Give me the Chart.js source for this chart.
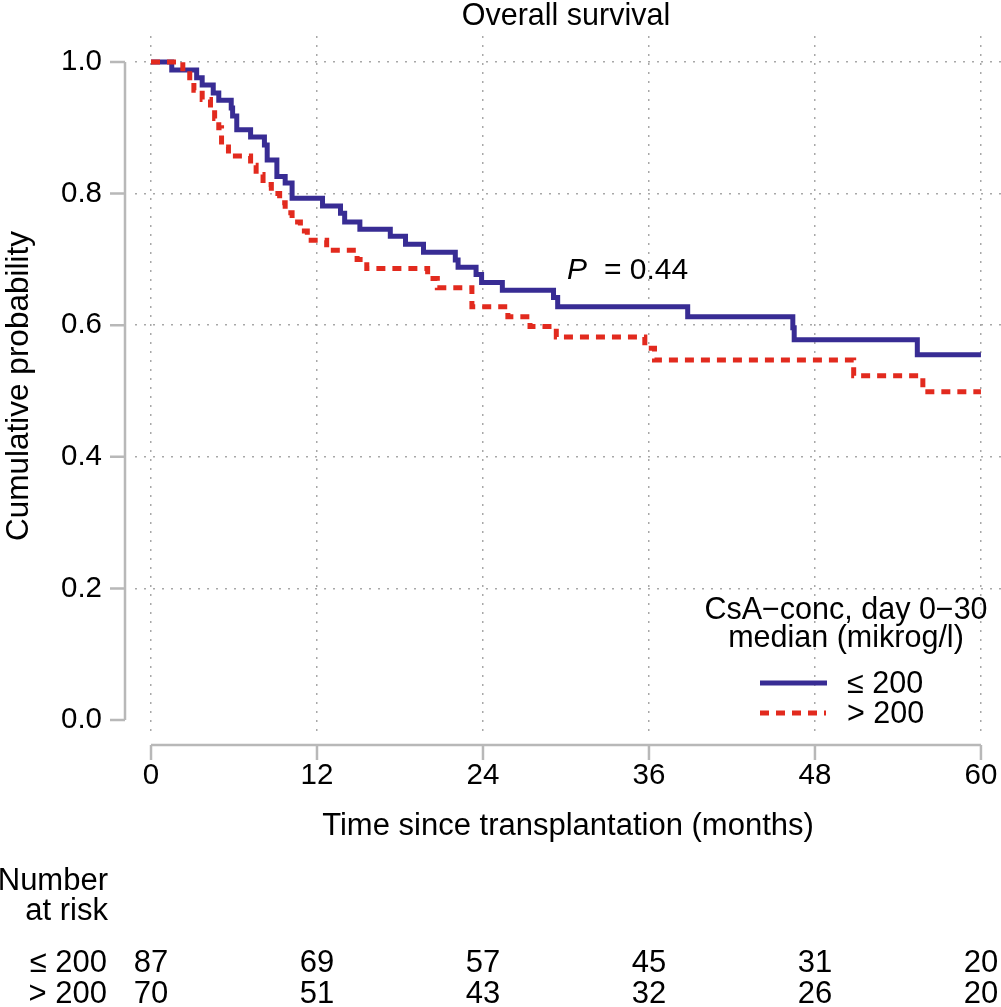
<!DOCTYPE html>
<html>
<head>
<meta charset="utf-8">
<title>Overall survival</title>
<script src="https://cdn.jsdelivr.net/npm/chart.js@4.4.1/dist/chart.umd.min.js"></script>
<style>
  body { margin: 0; background: #fff; }
  #wrap { width: 1001px; height: 1007px; position: relative; }
</style>
</head>
<body>
<div id="wrap"><canvas id="km"></canvas></div>
<script>
// Kaplan-Meier steps: month of each drop, survival right after it
const lowTimes = [0, 1.5, 3.3, 3.7, 4.5, 4.9, 5.8, 5.9, 6.2, 7.2, 8.2, 8.4, 9.1, 9.7, 10.2,
  12.4, 13.7, 14.0, 15.1, 17.3, 18.4, 19.7, 22.0, 22.2, 23.5, 23.9, 25.4, 29.1, 29.4,
  38.8, 46.4, 46.5, 55.4, 60];
const lowSurv = [1.0, 0.988, 0.976, 0.965, 0.953, 0.942, 0.930, 0.918, 0.897, 0.886, 0.874, 0.851, 0.826, 0.816, 0.793,
  0.781, 0.770, 0.757, 0.746, 0.735, 0.723, 0.711, 0.699, 0.688, 0.677, 0.665, 0.653, 0.642, 0.628,
  0.613, 0.596, 0.578, 0.555, 0.555];

const highTimes = [0, 2.3, 2.8, 3.1, 3.7, 4.3, 4.6, 4.9, 5.1, 5.6, 7.2, 7.6, 8.1, 8.7, 9.3, 9.7,
  10.2, 10.8, 11.3, 12.7, 14.9, 15.6, 20.0, 20.7, 23.2, 25.8, 27.4, 29.3, 35.7, 36.4,
  50.8, 55.8, 60];
const highSurv = [1.0, 0.986, 0.971, 0.957, 0.943, 0.929, 0.914, 0.900, 0.871, 0.857, 0.843, 0.829, 0.814, 0.800, 0.786, 0.771,
  0.757, 0.743, 0.729, 0.714, 0.700, 0.686, 0.671, 0.657, 0.628, 0.613, 0.598, 0.582, 0.565, 0.547,
  0.523, 0.499, 0.499];

const xTicks = [0, 12, 24, 36, 48, 60];
const yTicks = [0, 0.2, 0.4, 0.6, 0.8, 1.0];
const groupLabels = ['\u2264 200', '> 200'];
const riskLow = [87, 69, 57, 45, 31, 20];
const riskHigh = [70, 51, 43, 32, 26, 20];

const blue = 'rgb(56, 44, 148)';
const red = 'rgb(226, 42, 30)';
const axisGray = '#b8b8b8';
const FONT = '"Liberation Sans", Arial, Helvetica, sans-serif';

Chart.defaults.font.family = FONT;
Chart.defaults.color = '#000';

function toPoints(times, surv) {
  return times.map((t, i) => ({x: t, y: surv[i]}));
}

// keep the plot area where the reference has it: no auto padding for edge labels
function noPadding(scale) {
  scale.paddingLeft = 0;
  scale.paddingRight = 0;
  scale.paddingTop = 0;
  scale.paddingBottom = 0;
}

// extra drawing: offset axes, title, p-value, legend, number at risk
const extras = {
  id: 'extras',
  afterDraw(chart) {
    const ctx = chart.ctx;
    const xs = chart.scales.x;
    const ys = chart.scales.y;
    ctx.save();

    // y axis (offset left of the plot)
    const ax = 125;
    ctx.strokeStyle = axisGray;
    ctx.lineWidth = 2.5;
    ctx.beginPath();
    ctx.moveTo(ax, ys.getPixelForValue(0));
    ctx.lineTo(ax, ys.getPixelForValue(1));
    yTicks.forEach(v => {
      const py = ys.getPixelForValue(v);
      ctx.moveTo(ax, py);
      ctx.lineTo(ax - 15, py);
    });
    // x axis (offset below the plot)
    const ay = 745;
    ctx.moveTo(xs.getPixelForValue(0), ay);
    ctx.lineTo(xs.getPixelForValue(60), ay);
    xTicks.forEach(v => {
      const px = xs.getPixelForValue(v);
      ctx.moveTo(px, ay);
      ctx.lineTo(px, ay + 15);
    });
    ctx.stroke();

    ctx.fillStyle = '#000';
    ctx.textBaseline = 'alphabetic';

    // title
    ctx.font = '30.5px ' + FONT;
    ctx.textAlign = 'center';
    ctx.fillText('Overall survival', (xs.getPixelForValue(0) + xs.getPixelForValue(60)) / 2, 25);

    // p value
    ctx.textAlign = 'left';
    ctx.font = 'italic 30px ' + FONT;
    ctx.fillText('P', 567, 279);
    ctx.font = '30px ' + FONT;
    ctx.fillText('= 0.44', 604, 279);

    // legend
    ctx.textAlign = 'center';
    ctx.font = '30.5px ' + FONT;
    ctx.fillText('CsA\u2212conc, day 0\u221230', 846, 619);
    ctx.fillText('median (mikrog/l)', 846, 647);
    ctx.lineWidth = 5;
    ctx.strokeStyle = blue;
    ctx.beginPath();
    ctx.moveTo(760, 683);
    ctx.lineTo(827, 683);
    ctx.stroke();
    ctx.strokeStyle = red;
    ctx.setLineDash([9, 7]);
    ctx.beginPath();
    ctx.moveTo(760, 713);
    ctx.lineTo(826, 713);
    ctx.stroke();
    ctx.setLineDash([]);
    ctx.textAlign = 'left';
    ctx.fillText(groupLabels[0], 847, 693);
    ctx.fillText(groupLabels[1], 847, 723);

    // number at risk
    ctx.font = '31px ' + FONT;
    ctx.textAlign = 'right';
    ctx.fillText('Number', 108, 890);
    ctx.fillText('at risk', 108, 920);
    ctx.fillText(groupLabels[0], 107, 972);
    ctx.fillText(groupLabels[1], 107, 1003);
    ctx.textAlign = 'center';
    xTicks.forEach((t, i) => {
      const px = xs.getPixelForValue(t);
      ctx.fillText(String(riskLow[i]), px, 972);
      ctx.fillText(String(riskHigh[i]), px, 1003);
    });

    ctx.restore();
  }
};

window.onload = () => {
  new Chart(document.getElementById('km'), {
    type: 'line',
    data: {
      datasets: [
        {
          label: groupLabels[0],
          data: toPoints(lowTimes, lowSurv),
          borderColor: blue,
          borderWidth: 5,
          stepped: true,
          pointRadius: 0,
          fill: false,
          order: 1
        },
        {
          label: groupLabels[1],
          data: toPoints(highTimes, highSurv),
          borderColor: red,
          borderWidth: 5,
          borderDash: [9, 7],
          stepped: true,
          pointRadius: 0,
          fill: false,
          order: 0
        }
      ]
    },
    options: {
      responsive: true,
      maintainAspectRatio: false,
      animation: false,
      layout: {padding: {top: 36, right: 0, left: 0, bottom: 0}},
      plugins: {legend: {display: false}, tooltip: {enabled: false}},
      scales: {
        x: {
          type: 'linear',
          min: -1.157,
          max: 61.45,
          afterBuildTicks(scale) { scale.ticks = xTicks.map(v => ({value: v})); },
          afterFit(scale) { scale.height = 271; noPadding(scale); },
          ticks: {font: {size: 29.5}, padding: 22, maxRotation: 0, callback: v => String(v)},
          grid: {color: '#a8a8a8', lineWidth: 1.5, drawTicks: false, borderDash: [2, 7]},
          border: {display: false, dash: [2, 7]},
          title: {
            display: true,
            text: 'Time since transplantation (months)',
            font: {size: 31},
            padding: {top: 0, bottom: 162}
          }
        },
        y: {
          type: 'linear',
          min: -0.0243,
          max: 1.0395,
          afterBuildTicks(scale) { scale.ticks = yTicks.map(v => ({value: v})); },
          afterFit(scale) { scale.width = 135; noPadding(scale); },
          ticks: {font: {size: 29.5}, padding: 33, callback: v => v.toFixed(1)},
          grid: {
            color: c => (c.tick && c.tick.value === 0) ? 'rgba(0,0,0,0)' : '#a8a8a8',
            lineWidth: 1.5,
            drawTicks: false,
            borderDash: [2, 7]
          },
          border: {display: false, dash: [2, 7]},
          title: {
            display: true,
            text: 'Cumulative probability',
            font: {size: 31.5},
            padding: {top: 0, bottom: 0}
          }
        }
      }
    },
    plugins: [extras]
  });
};
</script>
</body>
</html>
